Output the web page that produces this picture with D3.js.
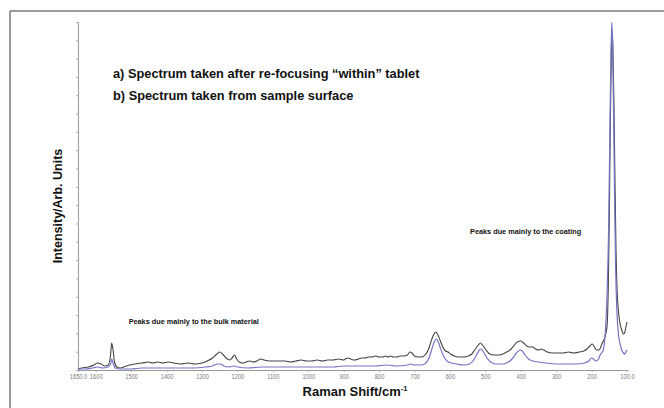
<!DOCTYPE html>
<html>
<head>
<meta charset="utf-8">
<script src="https://cdn.jsdelivr.net/npm/d3@7"></script>
<style>
  html, body { margin: 0; padding: 0; background: #fff; }
  svg { display: block; }
  text { font-family: "Liberation Sans", Arial, Helvetica, sans-serif; }
</style>
</head>
<body>
<svg id="chart" width="664" height="408"></svg>
<script>
// Raman spectra of a coated tablet (intensity in arbitrary units)

// a) spectrum after re-focusing "within" the tablet
const shiftA = [1650,1640,1620,1605,1595,1585,1575,1565,1558,1555,1551,1547,1540,1530,1520,1505,1490,1470,1450,1440,1425,1410,1395,1380,1360,1340,1320,1300,1285,1270,1258,1250,1242,1232,1222,1213,1208,1202,1195,1185,1175,1165,1155,1145,1135,1125,1110,1095,1080,1065,1050,1035,1020,1005,990,975,960,945,930,915,900,890,880,870,858,848,840,830,820,810,800,790,782,775,768,760,750,740,730,720,713,707,700,690,680,670,660,652,645,640,635,628,620,612,605,598,588,575,560,548,538,530,520,514,508,498,488,475,462,450,440,430,420,410,400,392,383,375,367,358,350,342,335,325,310,295,280,265,250,235,222,213,205,198,192,186,180,175,170,165,160,156,153,150,147,144,142,140,137,134,131,128,124,120,115,110,106,103,100];
const spectrumA = [1,2,3,5,7,6,4,5,15,27,20,8,3,2,3,5,6,7,8,7,8,7,8,7,6,7,6,7,9,12,16,18,16,12,10,13,15,11,8,7,8,9,8,9,11,10,9,9,9,9,8,9,10,9,9,10,9,10,10,11,10,12,11,10,11,12,12,13,13,14,13,13,14,13,14,13,13,14,14,15,18,17,14,13,13,15,21,30,36,38,36,30,23,19,18,16,14,13,13,14,16,20,25,27,25,20,16,15,15,16,18,20,24,28,29,27,24,23,23,21,20,21,20,18,17,17,17,18,17,18,19,21,24,26,23,20,20,22,27,30,36,45,80,150,250,320,338,326,270,190,120,80,58,47,40,36,38,43,48];

// b) spectrum taken from the sample surface
const shiftB = [1650,1630,1610,1595,1580,1565,1558,1555,1551,1545,1530,1500,1470,1440,1400,1360,1320,1290,1270,1255,1248,1238,1225,1210,1200,1170,1130,1090,1050,1010,970,930,900,870,840,810,780,750,720,710,700,680,668,658,650,643,639,634,627,618,608,595,580,560,545,535,525,517,512,505,495,485,470,450,435,422,410,402,396,388,378,365,350,330,300,270,240,220,208,200,195,188,180,176,172,167,163,160,156,152,149,146,143,141,138,135,132,128,124,120,115,110,106,103,100];
const spectrumB = [1,1,2,3,2,3,6,11,7,2,1,1,2,2,2,2,2,3,4,6,6,4,3,4,3,2,3,3,3,3,3,3,4,4,4,4,5,4,5,6,5,5,7,13,22,29,31,29,22,14,9,7,6,5,6,9,15,20,21,18,12,8,6,6,8,12,18,20,19,15,11,9,8,7,6,6,6,7,9,12,11,9,11,15,17,20,30,45,80,140,220,300,348,330,260,170,100,55,35,27,20,17,16,18,20];

const xTicks = [1650,1600,1500,1400,1300,1200,1100,1000,900,800,700,600,500,400,300,200,100];
const legendLines = ["a) Spectrum taken after re-focusing \u201cwithin\u201d tablet",
                     "b) Spectrum taken from sample surface"];
const notes = [
  {text: "Peaks due mainly to the bulk material", shift: 1507, level: 46},
  {text: "Peaks due mainly to the coating", shift: 543, level: 136}
];

const svg = d3.select("#chart");

// outer frame: top and left rules
svg.append("line").attr("x1", 10).attr("x2", 664).attr("y1", 11).attr("y2", 11)
  .attr("stroke", "#7a7a7a").attr("stroke-width", 1.5);
svg.append("line").attr("x1", 10).attr("x2", 10).attr("y1", 11).attr("y2", 408)
  .attr("stroke", "#7a7a7a").attr("stroke-width", 1.5);

const x = d3.scaleLinear().domain([1650, 100]).range([78, 627]);
const y = d3.scaleLinear().domain([0, 348]).range([370, 22]);

// x axis with small condensed labels
const xAxis = d3.axisBottom(x)
  .tickValues(xTicks)
  .tickSize(2)
  .tickFormat(d => (d === 1650 || d === 100) ? d.toFixed(1) : String(d));
const gx = svg.append("g").attr("transform", "translate(0,370)").call(xAxis);
gx.select(".domain").attr("stroke", "#9a9a9a").attr("stroke-width", 1.2);
gx.selectAll(".tick line").attr("stroke", "#aaa");
gx.selectAll(".tick text")
  .attr("fill", "#7a7a7a").attr("font-size", 7.5)
  .attr("dy", "0.55em")
  .attr("transform", "scale(0.76,1)");

// y axis (unlabelled, minor ticks only)
const yAxis = d3.axisLeft(y)
  .tickValues(d3.range(0, 349, 348 / 19))
  .tickSize(2)
  .tickFormat("");
const gy = svg.append("g").attr("transform", "translate(78,0)").call(yAxis);
gy.select(".domain").attr("stroke", "#a8a8a8").attr("stroke-width", 1.2);
gy.selectAll(".tick line").attr("stroke", "#b0b0b0");

// axis titles
svg.append("text")
  .attr("x", 355).attr("y", 396)
  .attr("text-anchor", "middle")
  .attr("font-size", 13).attr("font-weight", "bold").attr("fill", "#111")
  .call(t => {
    t.append("tspan").text("Raman Shift/cm");
    t.append("tspan").attr("font-size", 7.5).attr("dy", -5).text("-1");
  });

svg.append("text")
  .attr("transform", "translate(62,206) rotate(-90)")
  .attr("text-anchor", "middle")
  .attr("font-size", 12.5).attr("font-weight", "bold").attr("fill", "#111")
  .text("Intensity/Arb. Units");

// spectra
const line = d3.line()
  .x(d => x(d[0]))
  .y(d => y(d[1]))
  .curve(d3.curveMonotoneX);

const seriesB = shiftB.map((s, i) => [s, spectrumB[i]]);
const seriesA = shiftA.map((s, i) => [s, spectrumA[i]]);

svg.append("path").datum(seriesA)
  .attr("fill", "none").attr("stroke", "#444").attr("stroke-width", 1.1)
  .attr("d", line);
svg.append("path").datum(seriesB)
  .attr("fill", "none").attr("stroke", "#7474c6").attr("stroke-width", 1.2)
  .attr("d", line);

// legend text
svg.selectAll("text.legend").data(legendLines).join("text")
  .attr("class", "legend")
  .attr("x", 113).attr("y", (d, i) => 78 + i * 22)
  .attr("font-size", 12.8).attr("font-weight", "bold").attr("fill", "#111")
  .text(d => d);

// region notes
svg.selectAll("text.note").data(notes).join("text")
  .attr("class", "note")
  .attr("x", d => x(d.shift)).attr("y", d => y(d.level))
  .attr("font-size", 7.3).attr("font-weight", "bold").attr("fill", "#111")
  .text(d => d.text);
</script>
</body>
</html>
